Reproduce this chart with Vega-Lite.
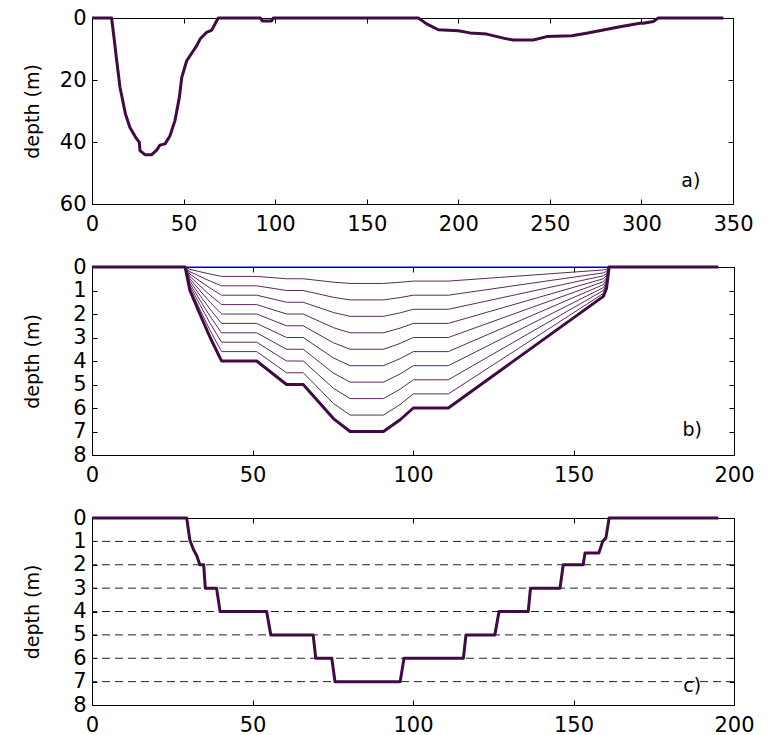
{
  "$schema": "https://vega.github.io/schema/vega-lite/v6.json",
  "background": "#ffffff",
  "padding": {"left": 22, "top": 6, "right": 0, "bottom": 0},
  "spacing": 63,
  "bounds": "flush",
  "config": {
    "font": "DejaVu Sans",
    "view": {"stroke": "#000000", "strokeWidth": 1},
    "axis": {
      "grid": false,
      "domain": false,
      "ticks": true,
      "tickColor": "#000000",
      "tickSize": -5,
      "tickWidth": 1,
      "labelFont": "DejaVu Sans",
      "labelFontSize": 21,
      "labelColor": "#000000",
      "labelFlush": false,
      "labelOverlap": false,
      "titleFont": "DejaVu Sans",
      "titleFontSize": 19,
      "titleFontWeight": "normal",
      "titleColor": "#000000"
    },
    "axisBottom": {"labelPadding": 14},
    "axisLeft": {"labelPadding": 11, "titleX": -50, "titleBaseline": "bottom"},
    "text": {"font": "DejaVu Sans", "fontSize": 19, "color": "#000000"}
  },
  "datasets": {
    "sectionA": [
      {"x": 0, "d": 0}, {"x": 10.7, "d": 0}, {"x": 12, "d": 6.2}, {"x": 13.5, "d": 13.8},
      {"x": 15.3, "d": 22.4}, {"x": 18.3, "d": 31}, {"x": 20.7, "d": 35.3}, {"x": 24.4, "d": 39},
      {"x": 25.8, "d": 40}, {"x": 26.2, "d": 42.8}, {"x": 28.9, "d": 44.1}, {"x": 32.6, "d": 44.1},
      {"x": 35.3, "d": 42.6}, {"x": 37.1, "d": 41}, {"x": 39.9, "d": 40.6}, {"x": 42.6, "d": 38},
      {"x": 45.3, "d": 33.1}, {"x": 47.7, "d": 25.6}, {"x": 49, "d": 19.2}, {"x": 51.7, "d": 13.8},
      {"x": 57.2, "d": 8.9}, {"x": 59, "d": 6.8}, {"x": 62.6, "d": 4.6}, {"x": 65.4, "d": 3.9},
      {"x": 68.1, "d": 0.9}, {"x": 69, "d": 0}, {"x": 92, "d": 0}, {"x": 93, "d": 1},
      {"x": 98, "d": 1}, {"x": 99, "d": 0}, {"x": 178.2, "d": 0}, {"x": 182.7, "d": 1.9},
      {"x": 189.1, "d": 3.8}, {"x": 200, "d": 4.1}, {"x": 206.4, "d": 4.8}, {"x": 215.5, "d": 5.2},
      {"x": 224.6, "d": 6.5}, {"x": 230, "d": 7.1}, {"x": 241, "d": 7.1}, {"x": 248.3, "d": 6.0},
      {"x": 261.9, "d": 5.7}, {"x": 270, "d": 4.9}, {"x": 279.2, "d": 3.9}, {"x": 288.3, "d": 2.8},
      {"x": 299.2, "d": 1.7}, {"x": 301, "d": 1.7}, {"x": 306.5, "d": 1.1}, {"x": 309.2, "d": 0},
      {"x": 344.7, "d": 0}
    ],
    "sectionB": [
      {"x": 0, "d": 0}, {"x": 29, "d": 0}, {"x": 30.5, "d": 1.0}, {"x": 33.6, "d": 2.0},
      {"x": 36.8, "d": 3.0}, {"x": 40.0, "d": 3.9}, {"x": 40.4, "d": 4.0}, {"x": 51.3, "d": 4.0},
      {"x": 60.6, "d": 5.0}, {"x": 65.8, "d": 5.0}, {"x": 75.2, "d": 6.45}, {"x": 80.4, "d": 7.0},
      {"x": 90.8, "d": 7.0}, {"x": 96, "d": 6.5}, {"x": 100.1, "d": 6.0}, {"x": 111, "d": 6.0},
      {"x": 159.3, "d": 1.25}, {"x": 160.3, "d": 0.9}, {"x": 161.1, "d": 0}, {"x": 195.1, "d": 0}
    ],
    "levelsB": [
      {"k": 1, "x": 29, "d": 0}, {"k": 1, "x": 30.5, "d": 0.1}, {"k": 1, "x": 33.6, "d": 0.2}, {"k": 1, "x": 36.8, "d": 0.3}, {"k": 1, "x": 40.0, "d": 0.39}, {"k": 1, "x": 40.4, "d": 0.4}, {"k": 1, "x": 51.3, "d": 0.4}, {"k": 1, "x": 60.6, "d": 0.5}, {"k": 1, "x": 65.8, "d": 0.5}, {"k": 1, "x": 75.2, "d": 0.645}, {"k": 1, "x": 80.4, "d": 0.7}, {"k": 1, "x": 90.8, "d": 0.7}, {"k": 1, "x": 96, "d": 0.65}, {"k": 1, "x": 100.1, "d": 0.6}, {"k": 1, "x": 111, "d": 0.6}, {"k": 1, "x": 159.3, "d": 0.125}, {"k": 1, "x": 160.3, "d": 0.09}, {"k": 1, "x": 161.1, "d": 0},
      {"k": 2, "x": 29, "d": 0}, {"k": 2, "x": 30.5, "d": 0.2}, {"k": 2, "x": 33.6, "d": 0.4}, {"k": 2, "x": 36.8, "d": 0.6}, {"k": 2, "x": 40.0, "d": 0.78}, {"k": 2, "x": 40.4, "d": 0.8}, {"k": 2, "x": 51.3, "d": 0.8}, {"k": 2, "x": 60.6, "d": 1.0}, {"k": 2, "x": 65.8, "d": 1.0}, {"k": 2, "x": 75.2, "d": 1.29}, {"k": 2, "x": 80.4, "d": 1.4}, {"k": 2, "x": 90.8, "d": 1.4}, {"k": 2, "x": 96, "d": 1.3}, {"k": 2, "x": 100.1, "d": 1.2}, {"k": 2, "x": 111, "d": 1.2}, {"k": 2, "x": 159.3, "d": 0.25}, {"k": 2, "x": 160.3, "d": 0.18}, {"k": 2, "x": 161.1, "d": 0},
      {"k": 3, "x": 29, "d": 0}, {"k": 3, "x": 30.5, "d": 0.3}, {"k": 3, "x": 33.6, "d": 0.6}, {"k": 3, "x": 36.8, "d": 0.9}, {"k": 3, "x": 40.0, "d": 1.17}, {"k": 3, "x": 40.4, "d": 1.2}, {"k": 3, "x": 51.3, "d": 1.2}, {"k": 3, "x": 60.6, "d": 1.5}, {"k": 3, "x": 65.8, "d": 1.5}, {"k": 3, "x": 75.2, "d": 1.935}, {"k": 3, "x": 80.4, "d": 2.1}, {"k": 3, "x": 90.8, "d": 2.1}, {"k": 3, "x": 96, "d": 1.95}, {"k": 3, "x": 100.1, "d": 1.8}, {"k": 3, "x": 111, "d": 1.8}, {"k": 3, "x": 159.3, "d": 0.375}, {"k": 3, "x": 160.3, "d": 0.27}, {"k": 3, "x": 161.1, "d": 0},
      {"k": 4, "x": 29, "d": 0}, {"k": 4, "x": 30.5, "d": 0.4}, {"k": 4, "x": 33.6, "d": 0.8}, {"k": 4, "x": 36.8, "d": 1.2}, {"k": 4, "x": 40.0, "d": 1.56}, {"k": 4, "x": 40.4, "d": 1.6}, {"k": 4, "x": 51.3, "d": 1.6}, {"k": 4, "x": 60.6, "d": 2.0}, {"k": 4, "x": 65.8, "d": 2.0}, {"k": 4, "x": 75.2, "d": 2.58}, {"k": 4, "x": 80.4, "d": 2.8}, {"k": 4, "x": 90.8, "d": 2.8}, {"k": 4, "x": 96, "d": 2.6}, {"k": 4, "x": 100.1, "d": 2.4}, {"k": 4, "x": 111, "d": 2.4}, {"k": 4, "x": 159.3, "d": 0.5}, {"k": 4, "x": 160.3, "d": 0.36}, {"k": 4, "x": 161.1, "d": 0},
      {"k": 5, "x": 29, "d": 0}, {"k": 5, "x": 30.5, "d": 0.5}, {"k": 5, "x": 33.6, "d": 1.0}, {"k": 5, "x": 36.8, "d": 1.5}, {"k": 5, "x": 40.0, "d": 1.95}, {"k": 5, "x": 40.4, "d": 2.0}, {"k": 5, "x": 51.3, "d": 2.0}, {"k": 5, "x": 60.6, "d": 2.5}, {"k": 5, "x": 65.8, "d": 2.5}, {"k": 5, "x": 75.2, "d": 3.225}, {"k": 5, "x": 80.4, "d": 3.5}, {"k": 5, "x": 90.8, "d": 3.5}, {"k": 5, "x": 96, "d": 3.25}, {"k": 5, "x": 100.1, "d": 3.0}, {"k": 5, "x": 111, "d": 3.0}, {"k": 5, "x": 159.3, "d": 0.625}, {"k": 5, "x": 160.3, "d": 0.45}, {"k": 5, "x": 161.1, "d": 0},
      {"k": 6, "x": 29, "d": 0}, {"k": 6, "x": 30.5, "d": 0.6}, {"k": 6, "x": 33.6, "d": 1.2}, {"k": 6, "x": 36.8, "d": 1.8}, {"k": 6, "x": 40.0, "d": 2.34}, {"k": 6, "x": 40.4, "d": 2.4}, {"k": 6, "x": 51.3, "d": 2.4}, {"k": 6, "x": 60.6, "d": 3.0}, {"k": 6, "x": 65.8, "d": 3.0}, {"k": 6, "x": 75.2, "d": 3.87}, {"k": 6, "x": 80.4, "d": 4.2}, {"k": 6, "x": 90.8, "d": 4.2}, {"k": 6, "x": 96, "d": 3.9}, {"k": 6, "x": 100.1, "d": 3.6}, {"k": 6, "x": 111, "d": 3.6}, {"k": 6, "x": 159.3, "d": 0.75}, {"k": 6, "x": 160.3, "d": 0.54}, {"k": 6, "x": 161.1, "d": 0},
      {"k": 7, "x": 29, "d": 0}, {"k": 7, "x": 30.5, "d": 0.7}, {"k": 7, "x": 33.6, "d": 1.4}, {"k": 7, "x": 36.8, "d": 2.1}, {"k": 7, "x": 40.0, "d": 2.73}, {"k": 7, "x": 40.4, "d": 2.8}, {"k": 7, "x": 51.3, "d": 2.8}, {"k": 7, "x": 60.6, "d": 3.5}, {"k": 7, "x": 65.8, "d": 3.5}, {"k": 7, "x": 75.2, "d": 4.515}, {"k": 7, "x": 80.4, "d": 4.9}, {"k": 7, "x": 90.8, "d": 4.9}, {"k": 7, "x": 96, "d": 4.55}, {"k": 7, "x": 100.1, "d": 4.2}, {"k": 7, "x": 111, "d": 4.2}, {"k": 7, "x": 159.3, "d": 0.875}, {"k": 7, "x": 160.3, "d": 0.63}, {"k": 7, "x": 161.1, "d": 0},
      {"k": 8, "x": 29, "d": 0}, {"k": 8, "x": 30.5, "d": 0.8}, {"k": 8, "x": 33.6, "d": 1.6}, {"k": 8, "x": 36.8, "d": 2.4}, {"k": 8, "x": 40.0, "d": 3.12}, {"k": 8, "x": 40.4, "d": 3.2}, {"k": 8, "x": 51.3, "d": 3.2}, {"k": 8, "x": 60.6, "d": 4.0}, {"k": 8, "x": 65.8, "d": 4.0}, {"k": 8, "x": 75.2, "d": 5.16}, {"k": 8, "x": 80.4, "d": 5.6}, {"k": 8, "x": 90.8, "d": 5.6}, {"k": 8, "x": 96, "d": 5.2}, {"k": 8, "x": 100.1, "d": 4.8}, {"k": 8, "x": 111, "d": 4.8}, {"k": 8, "x": 159.3, "d": 1.0}, {"k": 8, "x": 160.3, "d": 0.72}, {"k": 8, "x": 161.1, "d": 0},
      {"k": 9, "x": 29, "d": 0}, {"k": 9, "x": 30.5, "d": 0.9}, {"k": 9, "x": 33.6, "d": 1.8}, {"k": 9, "x": 36.8, "d": 2.7}, {"k": 9, "x": 40.0, "d": 3.51}, {"k": 9, "x": 40.4, "d": 3.6}, {"k": 9, "x": 51.3, "d": 3.6}, {"k": 9, "x": 60.6, "d": 4.5}, {"k": 9, "x": 65.8, "d": 4.5}, {"k": 9, "x": 75.2, "d": 5.805}, {"k": 9, "x": 80.4, "d": 6.3}, {"k": 9, "x": 90.8, "d": 6.3}, {"k": 9, "x": 96, "d": 5.85}, {"k": 9, "x": 100.1, "d": 5.4}, {"k": 9, "x": 111, "d": 5.4}, {"k": 9, "x": 159.3, "d": 1.125}, {"k": 9, "x": 160.3, "d": 0.81}, {"k": 9, "x": 161.1, "d": 0}
    ],
    "surfaceB": [
      {"x": 29, "d": 0}, {"x": 161.1, "d": 0}
    ],
    "sectionC": [
      {"x": 0, "d": 0}, {"x": 29.5, "d": 0}, {"x": 30.5, "d": 0.95}, {"x": 31.6, "d": 1.35},
      {"x": 32.6, "d": 1.6}, {"x": 33.6, "d": 2.0}, {"x": 34.8, "d": 2.0}, {"x": 35.3, "d": 3.0},
      {"x": 38.8, "d": 3.0}, {"x": 39.9, "d": 4.0}, {"x": 54.4, "d": 4.0}, {"x": 55.7, "d": 5.0},
      {"x": 68.9, "d": 5.0}, {"x": 69.7, "d": 6.0}, {"x": 74.7, "d": 6.0}, {"x": 75.7, "d": 7.0},
      {"x": 96, "d": 7.0}, {"x": 97.2, "d": 6.0}, {"x": 115.7, "d": 6.0}, {"x": 116.5, "d": 5.0},
      {"x": 125.5, "d": 5.0}, {"x": 126.8, "d": 4.0}, {"x": 135.9, "d": 4.0}, {"x": 136.6, "d": 3.0},
      {"x": 145.8, "d": 3.0}, {"x": 146.8, "d": 2.0}, {"x": 153, "d": 2.0}, {"x": 153.6, "d": 1.5},
      {"x": 157.9, "d": 1.5}, {"x": 159.1, "d": 1.0}, {"x": 160.1, "d": 0.85}, {"x": 161.1, "d": 0},
      {"x": 195.1, "d": 0}
    ],
    "layersC": [
      {"d": 1}, {"d": 2}, {"d": 3}, {"d": 4}, {"d": 5}, {"d": 6}, {"d": 7}
    ]
  },
  "vconcat": [
    {
      "width": 641,
      "height": 186,
      "layer": [
        {
          "data": {"name": "sectionA"},
          "mark": {"type": "line", "color": "#3f0b42", "strokeWidth": 3, "strokeJoin": "round"},
          "encoding": {
            "x": {"field": "x", "type": "quantitative", "scale": {"domain": [0, 350], "nice": false},
                  "axis": {"orient": "bottom", "title": null, "values": [0, 50, 100, 150, 200, 250, 300, 350]}},
            "y": {"field": "d", "type": "quantitative", "scale": {"domain": [0, 60], "nice": false, "reverse": true},
                  "axis": {"orient": "left", "title": "depth (m)", "values": [0, 20, 40, 60]}}
          }
        },
        {
          "data": {"values": [{"x": 327, "d": 52.5, "label": "a)"}]},
          "mark": {"type": "text", "align": "center", "baseline": "middle"},
          "encoding": {
            "x": {"field": "x", "type": "quantitative", "scale": {"domain": [0, 350], "nice": false},
                  "axis": {"orient": "top", "title": null, "labels": false, "values": [0, 50, 100, 150, 200, 250, 300, 350]}},
            "y": {"field": "d", "type": "quantitative", "scale": {"domain": [0, 60], "nice": false, "reverse": true},
                  "axis": {"orient": "right", "title": null, "labels": false, "values": [0, 20, 40, 60]}},
            "text": {"field": "label"}
          }
        }
      ],
      "resolve": {"axis": {"x": "independent", "y": "independent"}}
    },
    {
      "width": 642,
      "height": 188,
      "layer": [
        {
          "data": {"name": "levelsB"},
          "mark": {"type": "line", "color": "#5a2a5c", "strokeWidth": 1},
          "encoding": {
            "x": {"field": "x", "type": "quantitative", "scale": {"domain": [0, 200], "nice": false},
                  "axis": {"orient": "bottom", "title": null, "values": [0, 50, 100, 150, 200]}},
            "y": {"field": "d", "type": "quantitative", "scale": {"domain": [0, 8], "nice": false, "reverse": true},
                  "axis": {"orient": "left", "title": "depth (m)", "values": [0, 1, 2, 3, 4, 5, 6, 7, 8]}},
            "detail": {"field": "k", "type": "nominal"}
          }
        },
        {
          "data": {"name": "surfaceB"},
          "mark": {"type": "line", "color": "#0000ff", "strokeWidth": 1},
          "encoding": {
            "x": {"field": "x", "type": "quantitative", "axis": null},
            "y": {"field": "d", "type": "quantitative", "axis": null}
          }
        },
        {
          "data": {"name": "sectionB"},
          "mark": {"type": "line", "color": "#3f0b42", "strokeWidth": 3, "strokeJoin": "round"},
          "encoding": {
            "x": {"field": "x", "type": "quantitative", "axis": null},
            "y": {"field": "d", "type": "quantitative", "axis": null}
          }
        },
        {
          "data": {"values": [{"x": 187, "d": 6.92, "label": "b)"}]},
          "mark": {"type": "text", "align": "center", "baseline": "middle"},
          "encoding": {
            "x": {"field": "x", "type": "quantitative", "scale": {"domain": [0, 200], "nice": false},
                  "axis": {"orient": "top", "title": null, "labels": false, "values": [0, 50, 100, 150, 200]}},
            "y": {"field": "d", "type": "quantitative", "scale": {"domain": [0, 8], "nice": false, "reverse": true},
                  "axis": {"orient": "right", "title": null, "labels": false, "values": [0, 1, 2, 3, 4, 5, 6, 7, 8]}},
            "text": {"field": "label"}
          }
        }
      ],
      "resolve": {"axis": {"x": "independent", "y": "independent"}}
    },
    {
      "width": 642,
      "height": 187,
      "layer": [
        {
          "data": {"name": "layersC"},
          "mark": {"type": "rule", "color": "#222222", "strokeWidth": 1, "strokeDash": [8, 5]},
          "encoding": {
            "y": {"field": "d", "type": "quantitative", "scale": {"domain": [0, 8], "nice": false, "reverse": true},
                  "axis": {"orient": "left", "title": "depth (m)", "values": [0, 1, 2, 3, 4, 5, 6, 7, 8]}}
          }
        },
        {
          "data": {"name": "sectionC"},
          "mark": {"type": "line", "color": "#3f0b42", "strokeWidth": 3, "strokeJoin": "round"},
          "encoding": {
            "x": {"field": "x", "type": "quantitative", "scale": {"domain": [0, 200], "nice": false},
                  "axis": {"orient": "bottom", "title": null, "values": [0, 50, 100, 150, 200]}},
            "y": {"field": "d", "type": "quantitative", "axis": null}
          }
        },
        {
          "data": {"values": [{"x": 187, "d": 7.2, "label": "c)"}]},
          "mark": {"type": "text", "align": "center", "baseline": "middle"},
          "encoding": {
            "x": {"field": "x", "type": "quantitative", "scale": {"domain": [0, 200], "nice": false},
                  "axis": {"orient": "top", "title": null, "labels": false, "values": [0, 50, 100, 150, 200]}},
            "y": {"field": "d", "type": "quantitative", "scale": {"domain": [0, 8], "nice": false, "reverse": true},
                  "axis": {"orient": "right", "title": null, "labels": false, "values": [0, 1, 2, 3, 4, 5, 6, 7, 8]}},
            "text": {"field": "label"}
          }
        }
      ],
      "resolve": {"axis": {"x": "independent", "y": "independent"}}
    }
  ]
}
